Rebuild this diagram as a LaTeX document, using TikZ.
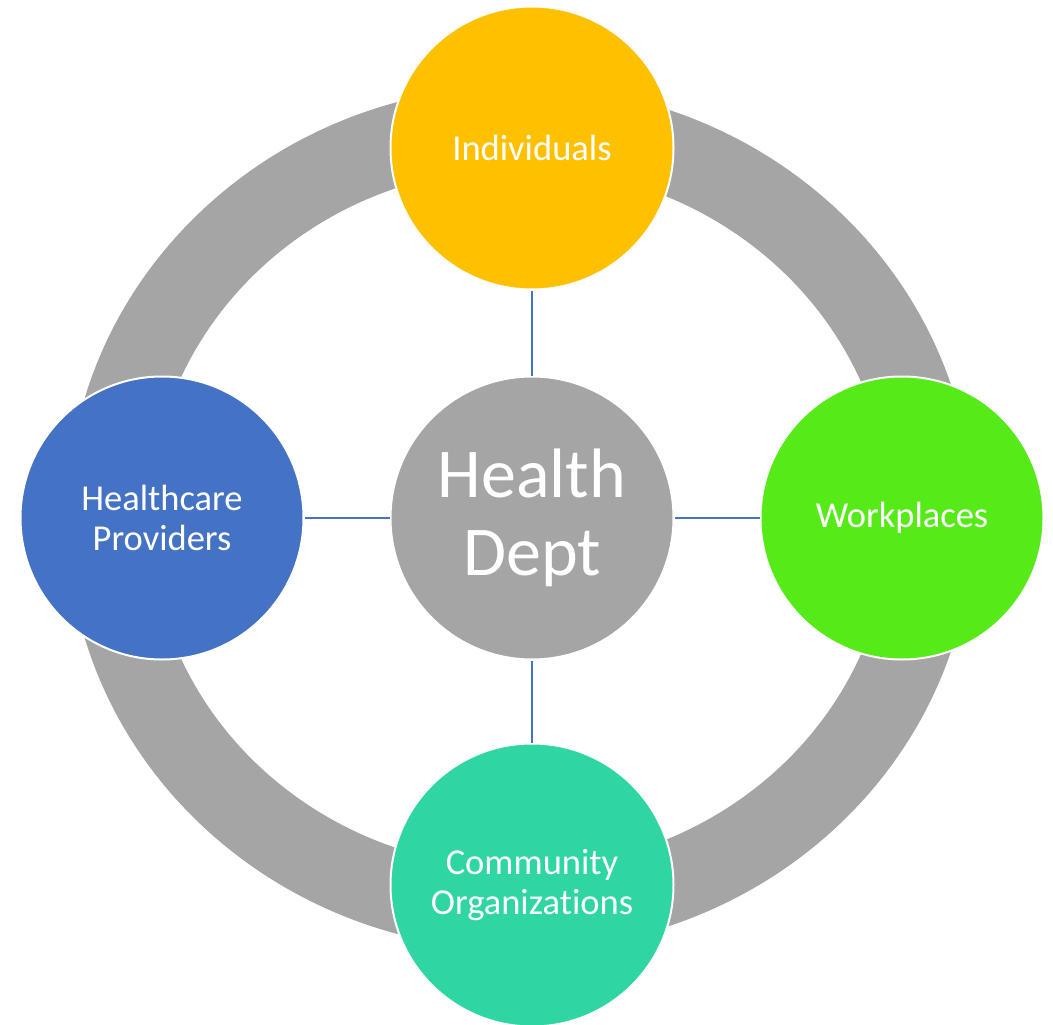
\documentclass[tikz,border=0pt]{standalone}
\usepackage{fontspec}
\setmainfont[Ligatures=NoCommon]{Carlito}
\definecolor{ringgray}{HTML}{A5A5A5}
\definecolor{cyellow}{HTML}{FFC000}
\definecolor{cblue}{HTML}{4472C4}
\definecolor{cgreen}{HTML}{56EA19}
\definecolor{cteal}{HTML}{2FD6A3}
\begin{document}
\begin{tikzpicture}[x=1pt,y=-1pt,
  sat/.style={circle, draw=white, line width=2pt, minimum size=283pt, inner sep=0pt, text=white,
    align=center, font=\fontsize{36.5}{40}\selectfont},
  hub/.style={circle, draw=white, line width=2pt, fill=ringgray, minimum size=283pt, inner sep=0pt, text=white,
    align=center, font=\fontsize{70}{78}\selectfont},
  conn/.style={draw=cblue, line width=1.8pt}]
\useasboundingbox (0,0) rectangle (1053,1025);
% ring
\fill[ringgray, even odd rule] (520,518) ellipse [x radius=453pt, y radius=432pt]
  (520,518) ellipse [x radius=370pt, y radius=350pt];
% nodes
\node[hub] (hd) at (532,518) {Health\\Dept};
\node[sat, fill=cyellow] (ind) at (532,148) {Individuals};
\node[sat, fill=cblue] (hp) at (162,518) {Healthcare\\Providers};
\node[sat, fill=cgreen] (wp) at (902,518) {Workplaces};
\node[sat, fill=cteal] (co) at (532,885) {Community\\Organizations};
% connectors
\draw[conn] (hd) -- (ind);
\draw[conn] (hd) -- (hp);
\draw[conn] (hd) -- (wp);
\draw[conn] (hd) -- (co);
\end{tikzpicture}
\end{document}
